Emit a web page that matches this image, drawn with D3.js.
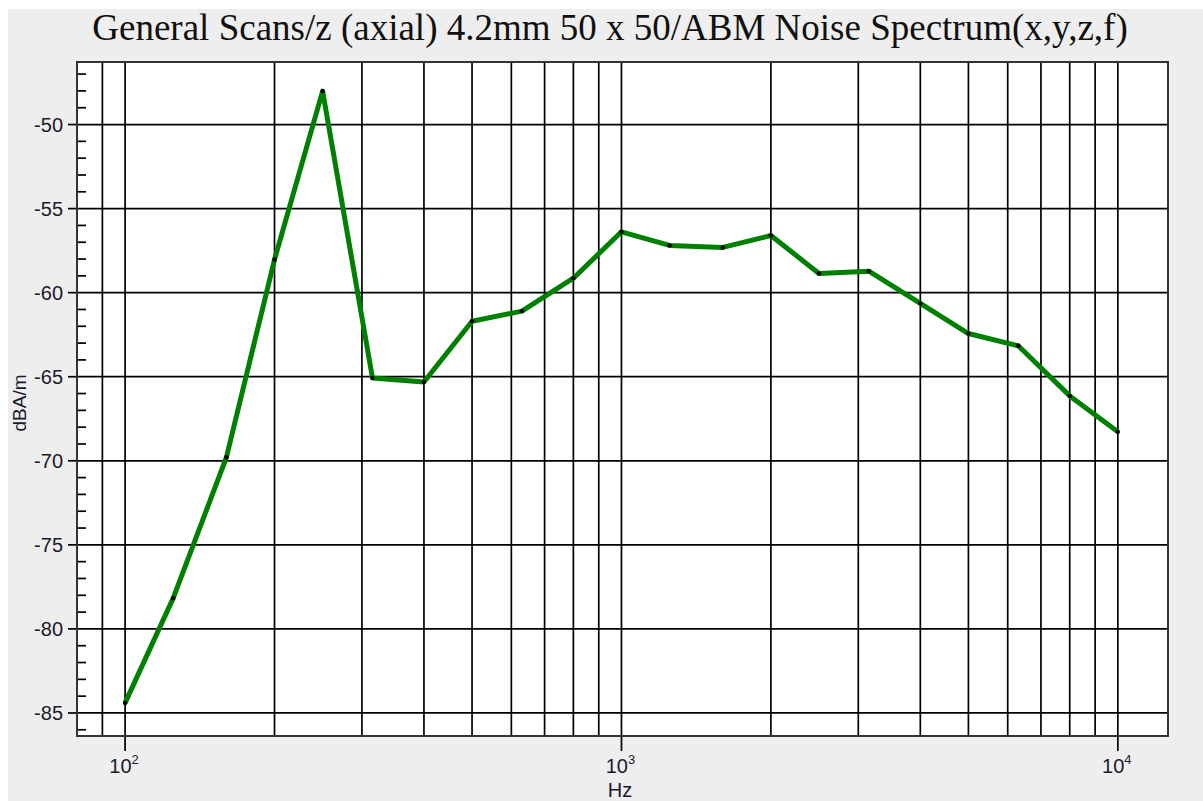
<!DOCTYPE html>
<html><head><meta charset="utf-8">
<script src="https://cdn.jsdelivr.net/npm/d3@7/dist/d3.min.js"></script>
<style>
html,body{margin:0;padding:0;background:#fff;}
svg{display:block;}
</style></head>
<body>
<svg id="chart" width="1203" height="801"></svg>
<script>
const titleText = "General Scans/z (axial) 4.2mm 50 x 50/ABM Noise Spectrum(x,y,z,f)";
const xLabel = "Hz";
const yLabel = "dBA/m";
const freqs = [100,125,160,200,250,315,400,500,630,800,1000,1250,1600,2000,2500,3150,4000,5000,6300,8000,10000];
const levels = [-84.40,-78.17,-69.79,-58.03,-48.01,-65.07,-65.31,-61.70,-61.10,-59.14,-56.38,-57.19,-57.31,-56.60,-58.86,-58.72,-60.64,-62.43,-63.16,-66.14,-68.28];
const yTicks = [-85,-80,-75,-70,-65,-60,-55,-50];
const xDecades = [100,1000,10000];
const xDecadeExp = ["2","3","4"];

const svg = d3.select("#chart");
const W = 1203, H = 801;
const L = 77, T = 62, R = 1168, B = 736;

svg.append("rect").attr("x",8).attr("y",9).attr("width",W-8).attr("height",H-9).attr("fill","#eeeeee");
svg.append("rect").attr("x",L).attr("y",T).attr("width",R-L).attr("height",B-T).attr("fill","#ffffff");

const x = d3.scaleLog().domain([80, 12620]).range([L, R]);
const y = d3.scaleLinear().domain([-86.37, -46.28]).range([B, T]);

const xGrid = [];
for (const dec of [10,100,1000]) for (let m=1;m<=9;m++){ const v=m*dec; if (v>80 && v<=10000) xGrid.push(v); }
xGrid.push(10000);
const g = svg.append("g");
g.selectAll("line.vg").data(xGrid).enter().append("line")
  .attr("x1",d=>x(d)).attr("x2",d=>x(d)).attr("y1",T).attr("y2",B)
  .attr("stroke","#000").attr("stroke-width",1.7);
g.selectAll("line.hg").data(yTicks).enter().append("line")
  .attr("x1",L).attr("x2",R).attr("y1",d=>y(d)).attr("y2",d=>y(d))
  .attr("stroke","#000").attr("stroke-width",1.7);

const yMinor = d3.range(-86,-46).filter(v=>v%5!==0);
g.selectAll("line.ym").data(yMinor).enter().append("line")
  .attr("x1",L).attr("x2",L+9).attr("y1",d=>y(d)).attr("y2",d=>y(d))
  .attr("stroke","#000").attr("stroke-width",1.7);
g.selectAll("line.yM").data(yTicks).enter().append("line")
  .attr("x1",L-9).attr("x2",L).attr("y1",d=>y(d)).attr("y2",d=>y(d))
  .attr("stroke","#000").attr("stroke-width",1.7);
g.selectAll("text.yl").data(yTicks).enter().append("text")
  .attr("x",L-14).attr("y",d=>y(d)+7).attr("text-anchor","end")
  .attr("font-family","Liberation Sans, Arial, sans-serif").attr("font-size",20)
  .attr("fill","#1a1a2a").text(d=>d);

g.selectAll("line.xM").data(xDecades).enter().append("line")
  .attr("x1",d=>x(d)).attr("x2",d=>x(d)).attr("y1",B).attr("y2",B+15)
  .attr("stroke","#000").attr("stroke-width",1.7);
const xl = g.selectAll("text.xl").data(xDecades).enter().append("text")
  .attr("x",d=>x(d)-1).attr("y",B+37).attr("text-anchor","middle")
  .attr("font-family","Liberation Sans, Arial, sans-serif").attr("font-size",20)
  .attr("fill","#1a1a2a");
xl.append("tspan").text("10");
xl.append("tspan").attr("font-size",13).attr("dy",-9).text((d,i)=>xDecadeExp[i]);

svg.append("rect").attr("x",L).attr("y",T).attr("width",R-L).attr("height",B-T)
  .attr("fill","none").attr("stroke","#333").attr("stroke-width",2);

const pts = freqs.map((f,i)=>({f, v:levels[i]}));
svg.append("path").datum(pts)
  .attr("d", d3.line().x(d=>x(d.f)).y(d=>y(d.v)))
  .attr("fill","none").attr("stroke","#008000").attr("stroke-width",5)
  .attr("stroke-linejoin","round");
svg.selectAll("circle.pt").data(pts).enter().append("circle")
  .attr("cx",d=>x(d.f)).attr("cy",d=>y(d.v)).attr("r",2.2).attr("fill","#000");

svg.append("text").attr("x",610).attr("y",40).attr("text-anchor","middle")
  .attr("font-family","Liberation Serif, Times New Roman, serif").attr("font-size",37)
  .attr("fill","#111").text(titleText);
svg.append("text").attr("x",620).attr("y",797).attr("text-anchor","middle")
  .attr("font-family","Liberation Sans, Arial, sans-serif").attr("font-size",20)
  .attr("fill","#1a1a2a").text(xLabel);
svg.append("text").attr("transform","translate(26,403) rotate(-90)").attr("text-anchor","middle")
  .attr("font-family","Liberation Sans, Arial, sans-serif").attr("font-size",19)
  .attr("fill","#1a1a2a").text(yLabel);
</script>
</body></html>
